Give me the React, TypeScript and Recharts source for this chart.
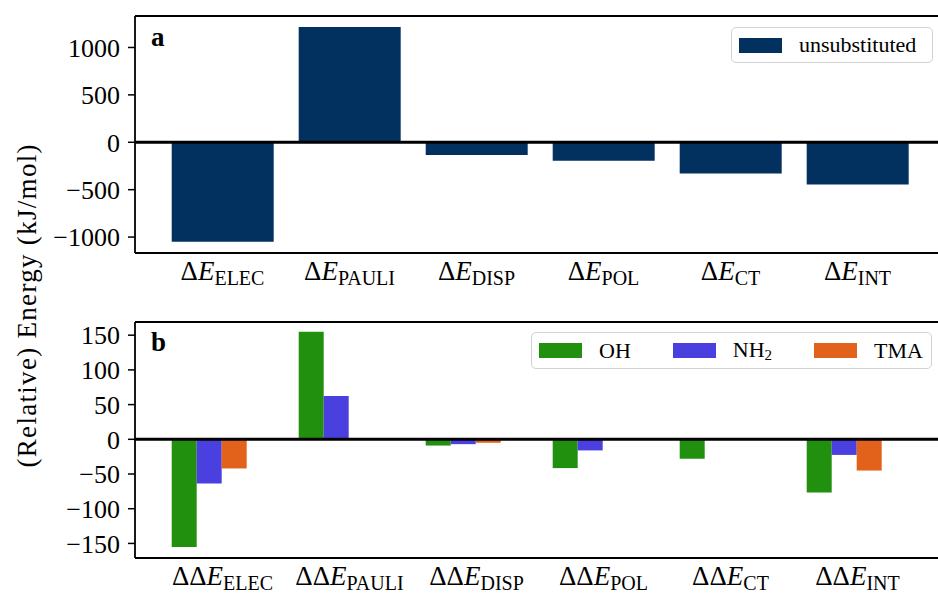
import { Bar, BarChart, Legend, ReferenceLine, XAxis, YAxis } from "recharts";

const FONT = '"Liberation Serif", "DejaVu Serif", serif';

// energy decomposition terms
const terms = ["ELEC", "PAULI", "DISP", "POL", "CT", "INT"];

// panel a: unsubstituted (kJ/mol)
const unsubstituted = [-1050, 1215, -135, -195, -330, -445];

// panel b: differences relative to unsubstituted (kJ/mol)
const ohDiff = [-155, 155, -9, -41.5, -28, -76.5];
const nh2Diff = [-63.5, 62.5, -7, -16, -1, -22.5];
const tmaDiff = [-42, 0.5, -5, -1, -0.5, -45];

const ticksA = [-1000, -500, 0, 500, 1000];
const ticksB = [-150, -100, -50, 0, 50, 100, 150];

const domainA = [-1168, 1332];
const domainB = [-171, 169];

const dataA = terms.map((t, i) => ({ name: t, unsubstituted: unsubstituted[i] }));
const dataB = terms.map((t, i) => ({
  name: t,
  OH: ohDiff[i],
  NH2: nh2Diff[i],
  TMA: tmaDiff[i],
}));

const seriesB = [
  { key: "OH", color: "#21900f" },
  { key: "NH2", color: "#4a40e0" },
  { key: "TMA", color: "#e2621b" },
];

const NAVY = "#023160";

const minus = (v: number) => String(v).replace("-", "\u2212");

const TermTick = ({ x, y, payload, prefix }: any) => (
  <text x={x} y={y + 27} textAnchor="middle" fontFamily={FONT} fill="#000">
    <tspan fontSize={27}>{prefix}</tspan>
    <tspan fontSize={27} fontStyle="italic">
      E
    </tspan>
    <tspan fontSize={20} dy={5}>
      {payload.value}
    </tspan>
  </text>
);

const LegendLabel = ({ name }: { name: string }) =>
  name === "NH2" ? (
    <span>
      NH<sub style={{ fontSize: 15, verticalAlign: "-3px" }}>2</sub>
    </span>
  ) : (
    <span>{name}</span>
  );

const LegendBox = ({ items }: { items: { key: string; color: string }[] }) => (
  <div
    style={{
      boxSizing: "border-box",
      width: "100%",
      height: "100%",
      border: "1.5px solid #d2d2d2",
      borderRadius: 5,
      background: "#fff",
      display: "flex",
      alignItems: "center",
      paddingLeft: 7,
      fontFamily: FONT,
      fontSize: 22,
      color: "#000",
    }}
  >
    {items.map((it, i) => (
      <div
        key={it.key}
        style={{ display: "flex", alignItems: "center", marginRight: i < items.length - 1 ? 42 : 0 }}
      >
        <div style={{ width: 43, height: 15, background: it.color, marginRight: 17 }} />
        <LegendLabel name={it.key} />
      </div>
    ))}
  </div>
);

const axisStroke = { stroke: "#000", strokeWidth: 1.8 };
const yTick = { fontSize: 26, fontFamily: FONT, fill: "#000" };

export default function App() {
  return (
    <div
      style={{
        position: "absolute",
        left: 0,
        top: 0,
        width: 938,
        height: 593,
        overflow: "hidden",
        background: "#fff",
      }}
    >
      <BarChart
        width={945}
        height={300}
        data={dataA}
        margin={{ top: 16, right: 0, bottom: 0, left: 0 }}
        barCategoryGap="10%"
      >
        <XAxis
          dataKey="name"
          height={47}
          padding={{ left: 24, right: 24 }}
          axisLine={axisStroke}
          tickLine={false}
          tickSize={0}
          tickMargin={0}
          interval={0}
          tick={(p: any) => <TermTick {...p} prefix={"\u0394"} />}
        />
        <YAxis
          width={135}
          domain={domainA}
          ticks={ticksA}
          interval={0}
          allowDataOverflow
          axisLine={axisStroke}
          tickLine={{ stroke: "#000", strokeWidth: 1.5 }}
          tickSize={7}
          tickMargin={8}
          tick={yTick}
          tickFormatter={minus}
        />
        <Bar dataKey="unsubstituted" fill={NAVY} isAnimationActive={false} />
        <ReferenceLine y={0} stroke="#000" strokeWidth={3} />
        <ReferenceLine y={domainA[1]} stroke="#000" strokeWidth={1.8} />
        <Legend
          layout="horizontal"
          verticalAlign="middle"
          content={() => <LegendBox items={[{ key: "unsubstituted", color: NAVY }]} />}
          wrapperStyle={{ left: 731, top: 27, width: 202, height: 36 }}
        />
      </BarChart>

      <BarChart
        width={945}
        height={293}
        data={dataB}
        margin={{ top: 22, right: 0, bottom: 0, left: 0 }}
        barCategoryGap="10%"
        barGap={0}
      >
        <XAxis
          dataKey="name"
          height={35}
          padding={{ left: 24, right: 24 }}
          axisLine={axisStroke}
          tickLine={false}
          tickSize={0}
          tickMargin={0}
          interval={0}
          tick={(p: any) => <TermTick {...p} prefix={"\u0394\u0394"} />}
        />
        <YAxis
          width={135}
          domain={domainB}
          ticks={ticksB}
          interval={0}
          allowDataOverflow
          axisLine={axisStroke}
          tickLine={{ stroke: "#000", strokeWidth: 1.5 }}
          tickSize={7}
          tickMargin={8}
          tick={yTick}
          tickFormatter={minus}
        />
        {seriesB.map((s) => (
          <Bar key={s.key} dataKey={s.key} fill={s.color} isAnimationActive={false} />
        ))}
        {/* empty slot: matplotlib groups leave the fourth position free */}
        <Bar dataKey={() => null} fill="transparent" legendType="none" isAnimationActive={false} />
        <ReferenceLine y={0} stroke="#000" strokeWidth={3} />
        <ReferenceLine y={domainB[1]} stroke="#000" strokeWidth={1.8} />
        <Legend
          layout="horizontal"
          verticalAlign="middle"
          content={() => <LegendBox items={seriesB} />}
          wrapperStyle={{ left: 531, top: 32, width: 401, height: 37 }}
        />
      </BarChart>

      <svg
        width={938}
        height={593}
        style={{ position: "absolute", left: 0, top: 0, pointerEvents: "none" }}
      >
        <text x={151} y={46} fontFamily={FONT} fontSize={27} fontWeight="bold">
          a
        </text>
        <text x={151} y={351} fontFamily={FONT} fontSize={27} fontWeight="bold">
          b
        </text>
        <text
          transform="translate(36,306) rotate(-90)"
          textAnchor="middle"
          fontFamily={FONT}
          fontSize={27}
          textLength={323}
          lengthAdjust="spacing"
        >
          (Relative) Energy (kJ/mol)
        </text>
      </svg>
    </div>
  );
}
